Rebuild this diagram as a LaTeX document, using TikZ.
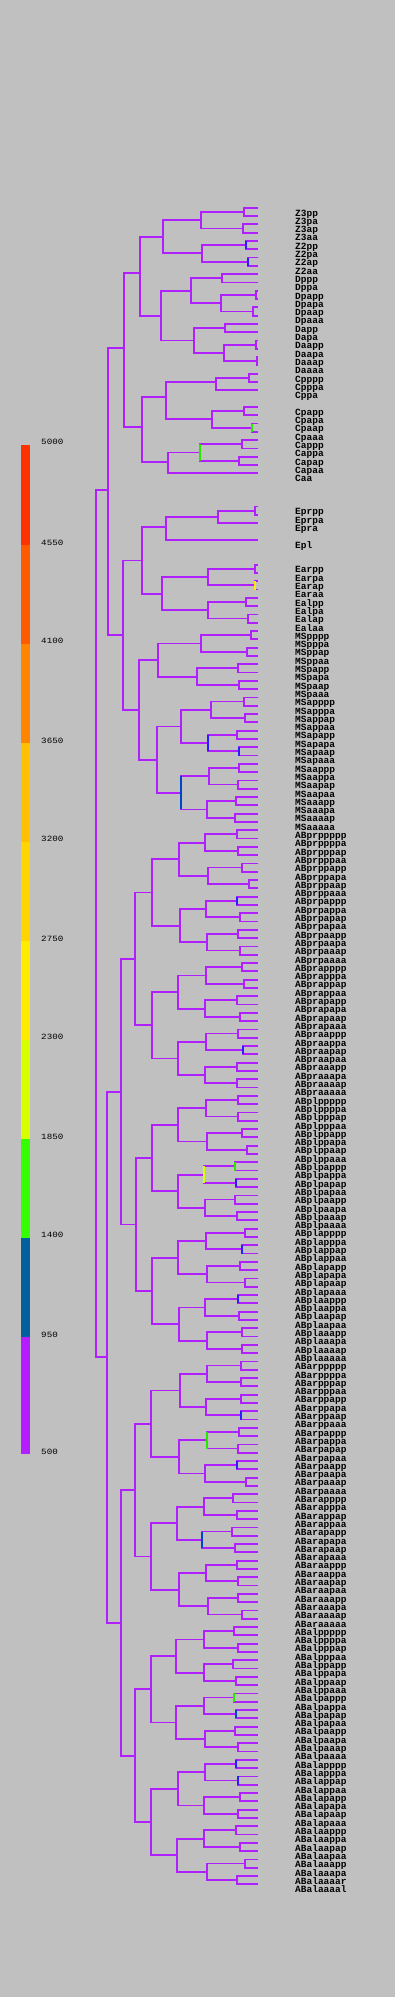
\documentclass[tikz,border=0pt]{standalone}
\usepackage{fontspec}
\newfontfamily\cellmono{Liberation Mono}
\definecolor{bggray}{RGB}{192,192,192}
\definecolor{branchpurple}{RGB}{176,32,255}
\definecolor{markblue}{RGB}{40,30,255}
\definecolor{markteal}{RGB}{0,70,200}
\definecolor{markgreen}{RGB}{40,230,0}
\definecolor{marklime}{RGB}{215,255,0}
\definecolor{markyellow}{RGB}{255,234,0}
\definecolor{scA}{RGB}{255,51,0}
\definecolor{scB}{RGB}{255,90,0}
\definecolor{scC}{RGB}{255,132,0}
\definecolor{scD}{RGB}{255,192,0}
\definecolor{scE}{RGB}{255,212,0}
\definecolor{scF}{RGB}{255,234,0}
\definecolor{scG}{RGB}{216,255,0}
\definecolor{scH}{RGB}{51,255,0}
\definecolor{scI}{RGB}{0,96,158}
\definecolor{scJ}{RGB}{180,30,255}
\tikzset{
  cell/.style={font=\cellmono\bfseries\fontsize{9.5pt}{10pt}\selectfont, anchor=base west, inner sep=0pt},
  scalelabel/.style={font=\cellmono\fontsize{8pt}{8pt}\selectfont, anchor=base west, inner sep=0pt, xscale=1.15},
  lineage/.style={draw=branchpurple, line width=1.8pt},
  timed/.style={line width=1.8pt}
}
\begin{document}
\begin{tikzpicture}[x=1pt, y=-1pt]
  \fill[bggray] (0,0) rectangle (395,1997);
  \useasboundingbox (0,0) rectangle (395,1997);
  % colour scale
  \fill[scA] (21,444.5) rectangle (30,545.1);
  \fill[scB] (21,545.1) rectangle (30,643.8);
  \fill[scC] (21,643.8) rectangle (30,743.1);
  \fill[scD] (21,743.1) rectangle (30,841.8);
  \fill[scE] (21,841.8) rectangle (30,941.1);
  \fill[scF] (21,941.1) rectangle (30,1039.8);
  \fill[scG] (21,1039.8) rectangle (30,1139.1);
  \fill[scH] (21,1139.1) rectangle (30,1237.8);
  \fill[scI] (21,1237.8) rectangle (30,1337.1);
  \fill[scJ] (21,1337.1) rectangle (30,1454);
  \node[scalelabel] (s5000) at (41,444.5) {5000};
  \node[scalelabel] (s4550) at (41,545.1) {4550};
  \node[scalelabel] (s4100) at (41,643.8) {4100};
  \node[scalelabel] (s3650) at (41,743.1) {3650};
  \node[scalelabel] (s3200) at (41,841.8) {3200};
  \node[scalelabel] (s2750) at (41,941.1) {2750};
  \node[scalelabel] (s2300) at (41,1039.8) {2300};
  \node[scalelabel] (s1850) at (41,1139.1) {1850};
  \node[scalelabel] (s1400) at (41,1237.8) {1400};
  \node[scalelabel] (s950) at (41,1337.1) {950};
  \node[scalelabel] (s500) at (41,1454) {500};

  \begin{scope}[y=-8.3pt, yshift=-207.7pt]
    % terminal cells: branch end and name
    \path
      (258,0) coordinate (Z3pp) (295,1) node[cell] (tZ3pp) {Z3pp}
      (258,1) coordinate (Z3pa) (295,2) node[cell] (tZ3pa) {Z3pa}
      (258,2) coordinate (Z3ap) (295,3) node[cell] (tZ3ap) {Z3ap}
      (258,3) coordinate (Z3aa) (295,4) node[cell] (tZ3aa) {Z3aa}
      (258,4) coordinate (Z2pp) (295,5) node[cell] (tZ2pp) {Z2pp}
      (258,5) coordinate (Z2pa) (295,6) node[cell] (tZ2pa) {Z2pa}
      (258,6) coordinate (Z2ap) (295,7) node[cell] (tZ2ap) {Z2ap}
      (258,7) coordinate (Z2aa) (295,8) node[cell] (tZ2aa) {Z2aa}
      (258,8) coordinate (Dppp) (295,9) node[cell] (tDppp) {Dppp}
      (258,9) coordinate (Dppa) (295,10) node[cell] (tDppa) {Dppa}
      (258,10) coordinate (Dpapp) (295,11) node[cell] (tDpapp) {Dpapp}
      (258,11) coordinate (Dpapa) (295,12) node[cell] (tDpapa) {Dpapa}
      (258,12) coordinate (Dpaap) (295,13) node[cell] (tDpaap) {Dpaap}
      (258,13) coordinate (Dpaaa) (295,14) node[cell] (tDpaaa) {Dpaaa}
      (258,14) coordinate (Dapp) (295,15) node[cell] (tDapp) {Dapp}
      (258,15) coordinate (Dapa) (295,16) node[cell] (tDapa) {Dapa}
      (258,16) coordinate (Daapp) (295,17) node[cell] (tDaapp) {Daapp}
      (258,17) coordinate (Daapa) (295,18) node[cell] (tDaapa) {Daapa}
      (258,18) coordinate (Daaap) (295,19) node[cell] (tDaaap) {Daaap}
      (258,19) coordinate (Daaaa) (295,20) node[cell] (tDaaaa) {Daaaa}
      (258,20) coordinate (Cpppp) (295,21) node[cell] (tCpppp) {Cpppp}
      (258,21) coordinate (Cpppa) (295,22) node[cell] (tCpppa) {Cpppa}
      (258,22) coordinate (Cppa) (295,23) node[cell] (tCppa) {Cppa}
      (258,24) coordinate (Cpapp) (295,25) node[cell] (tCpapp) {Cpapp}
      (258,25) coordinate (Cpapa) (295,26) node[cell] (tCpapa) {Cpapa}
      (258,26) coordinate (Cpaap) (295,27) node[cell] (tCpaap) {Cpaap}
      (258,27) coordinate (Cpaaa) (295,28) node[cell] (tCpaaa) {Cpaaa}
      (258,28) coordinate (Cappp) (295,29) node[cell] (tCappp) {Cappp}
      (258,29) coordinate (Cappa) (295,30) node[cell] (tCappa) {Cappa}
      (258,30) coordinate (Capap) (295,31) node[cell] (tCapap) {Capap}
      (258,31) coordinate (Capaa) (295,32) node[cell] (tCapaa) {Capaa}
      (258,32) coordinate (Caa) (295,33) node[cell] (tCaa) {Caa}
      (258,36) coordinate (Eprpp) (295,37) node[cell] (tEprpp) {Eprpp}
      (258,37) coordinate (Eprpa) (295,38) node[cell] (tEprpa) {Eprpa}
      (258,38) coordinate (Epra) (295,39) node[cell] (tEpra) {Epra}
      (258,40) coordinate (Epl) (295,41) node[cell] (tEpl) {Epl}
      (258,43) coordinate (Earpp) (295,44) node[cell] (tEarpp) {Earpp}
      (258,44) coordinate (Earpa) (295,45) node[cell] (tEarpa) {Earpa}
      (258,45) coordinate (Earap) (295,46) node[cell] (tEarap) {Earap}
      (258,46) coordinate (Earaa) (295,47) node[cell] (tEaraa) {Earaa}
      (258,47) coordinate (Ealpp) (295,48) node[cell] (tEalpp) {Ealpp}
      (258,48) coordinate (Ealpa) (295,49) node[cell] (tEalpa) {Ealpa}
      (258,49) coordinate (Ealap) (295,50) node[cell] (tEalap) {Ealap}
      (258,50) coordinate (Ealaa) (295,51) node[cell] (tEalaa) {Ealaa}
      (258,51) coordinate (MSpppp) (295,52) node[cell] (tMSpppp) {MSpppp}
      (258,52) coordinate (MSpppa) (295,53) node[cell] (tMSpppa) {MSpppa}
      (258,53) coordinate (MSppap) (295,54) node[cell] (tMSppap) {MSppap}
      (258,54) coordinate (MSppaa) (295,55) node[cell] (tMSppaa) {MSppaa}
      (258,55) coordinate (MSpapp) (295,56) node[cell] (tMSpapp) {MSpapp}
      (258,56) coordinate (MSpapa) (295,57) node[cell] (tMSpapa) {MSpapa}
      (258,57) coordinate (MSpaap) (295,58) node[cell] (tMSpaap) {MSpaap}
      (258,58) coordinate (MSpaaa) (295,59) node[cell] (tMSpaaa) {MSpaaa}
      (258,59) coordinate (MSapppp) (295,60) node[cell] (tMSapppp) {MSapppp}
      (258,60) coordinate (MSapppa) (295,61) node[cell] (tMSapppa) {MSapppa}
      (258,61) coordinate (MSappap) (295,62) node[cell] (tMSappap) {MSappap}
      (258,62) coordinate (MSappaa) (295,63) node[cell] (tMSappaa) {MSappaa}
      (258,63) coordinate (MSapapp) (295,64) node[cell] (tMSapapp) {MSapapp}
      (258,64) coordinate (MSapapa) (295,65) node[cell] (tMSapapa) {MSapapa}
      (258,65) coordinate (MSapaap) (295,66) node[cell] (tMSapaap) {MSapaap}
      (258,66) coordinate (MSapaaa) (295,67) node[cell] (tMSapaaa) {MSapaaa}
      (258,67) coordinate (MSaappp) (295,68) node[cell] (tMSaappp) {MSaappp}
      (258,68) coordinate (MSaappa) (295,69) node[cell] (tMSaappa) {MSaappa}
      (258,69) coordinate (MSaapap) (295,70) node[cell] (tMSaapap) {MSaapap}
      (258,70) coordinate (MSaapaa) (295,71) node[cell] (tMSaapaa) {MSaapaa}
      (258,71) coordinate (MSaaapp) (295,72) node[cell] (tMSaaapp) {MSaaapp}
      (258,72) coordinate (MSaaapa) (295,73) node[cell] (tMSaaapa) {MSaaapa}
      (258,73) coordinate (MSaaaap) (295,74) node[cell] (tMSaaaap) {MSaaaap}
      (258,74) coordinate (MSaaaaa) (295,75) node[cell] (tMSaaaaa) {MSaaaaa}
      (258,75) coordinate (ABprppppp) (295,76) node[cell] (tABprppppp) {ABprppppp}
      (258,76) coordinate (ABprppppa) (295,77) node[cell] (tABprppppa) {ABprppppa}
      (258,77) coordinate (ABprpppap) (295,78) node[cell] (tABprpppap) {ABprpppap}
      (258,78) coordinate (ABprpppaa) (295,79) node[cell] (tABprpppaa) {ABprpppaa}
      (258,79) coordinate (ABprppapp) (295,80) node[cell] (tABprppapp) {ABprppapp}
      (258,80) coordinate (ABprppapa) (295,81) node[cell] (tABprppapa) {ABprppapa}
      (258,81) coordinate (ABprppaap) (295,82) node[cell] (tABprppaap) {ABprppaap}
      (258,82) coordinate (ABprppaaa) (295,83) node[cell] (tABprppaaa) {ABprppaaa}
      (258,83) coordinate (ABprpappp) (295,84) node[cell] (tABprpappp) {ABprpappp}
      (258,84) coordinate (ABprpappa) (295,85) node[cell] (tABprpappa) {ABprpappa}
      (258,85) coordinate (ABprpapap) (295,86) node[cell] (tABprpapap) {ABprpapap}
      (258,86) coordinate (ABprpapaa) (295,87) node[cell] (tABprpapaa) {ABprpapaa}
      (258,87) coordinate (ABprpaapp) (295,88) node[cell] (tABprpaapp) {ABprpaapp}
      (258,88) coordinate (ABprpaapa) (295,89) node[cell] (tABprpaapa) {ABprpaapa}
      (258,89) coordinate (ABprpaaap) (295,90) node[cell] (tABprpaaap) {ABprpaaap}
      (258,90) coordinate (ABprpaaaa) (295,91) node[cell] (tABprpaaaa) {ABprpaaaa}
      (258,91) coordinate (ABprapppp) (295,92) node[cell] (tABprapppp) {ABprapppp}
      (258,92) coordinate (ABprapppa) (295,93) node[cell] (tABprapppa) {ABprapppa}
      (258,93) coordinate (ABprappap) (295,94) node[cell] (tABprappap) {ABprappap}
      (258,94) coordinate (ABprappaa) (295,95) node[cell] (tABprappaa) {ABprappaa}
      (258,95) coordinate (ABprapapp) (295,96) node[cell] (tABprapapp) {ABprapapp}
      (258,96) coordinate (ABprapapa) (295,97) node[cell] (tABprapapa) {ABprapapa}
      (258,97) coordinate (ABprapaap) (295,98) node[cell] (tABprapaap) {ABprapaap}
      (258,98) coordinate (ABprapaaa) (295,99) node[cell] (tABprapaaa) {ABprapaaa}
      (258,99) coordinate (ABpraappp) (295,100) node[cell] (tABpraappp) {ABpraappp}
      (258,100) coordinate (ABpraappa) (295,101) node[cell] (tABpraappa) {ABpraappa}
      (258,101) coordinate (ABpraapap) (295,102) node[cell] (tABpraapap) {ABpraapap}
      (258,102) coordinate (ABpraapaa) (295,103) node[cell] (tABpraapaa) {ABpraapaa}
      (258,103) coordinate (ABpraaapp) (295,104) node[cell] (tABpraaapp) {ABpraaapp}
      (258,104) coordinate (ABpraaapa) (295,105) node[cell] (tABpraaapa) {ABpraaapa}
      (258,105) coordinate (ABpraaaap) (295,106) node[cell] (tABpraaaap) {ABpraaaap}
      (258,106) coordinate (ABpraaaaa) (295,107) node[cell] (tABpraaaaa) {ABpraaaaa}
      (258,107) coordinate (ABplppppp) (295,108) node[cell] (tABplppppp) {ABplppppp}
      (258,108) coordinate (ABplppppa) (295,109) node[cell] (tABplppppa) {ABplppppa}
      (258,109) coordinate (ABplpppap) (295,110) node[cell] (tABplpppap) {ABplpppap}
      (258,110) coordinate (ABplpppaa) (295,111) node[cell] (tABplpppaa) {ABplpppaa}
      (258,111) coordinate (ABplppapp) (295,112) node[cell] (tABplppapp) {ABplppapp}
      (258,112) coordinate (ABplppapa) (295,113) node[cell] (tABplppapa) {ABplppapa}
      (258,113) coordinate (ABplppaap) (295,114) node[cell] (tABplppaap) {ABplppaap}
      (258,114) coordinate (ABplppaaa) (295,115) node[cell] (tABplppaaa) {ABplppaaa}
      (258,115) coordinate (ABplpappp) (295,116) node[cell] (tABplpappp) {ABplpappp}
      (258,116) coordinate (ABplpappa) (295,117) node[cell] (tABplpappa) {ABplpappa}
      (258,117) coordinate (ABplpapap) (295,118) node[cell] (tABplpapap) {ABplpapap}
      (258,118) coordinate (ABplpapaa) (295,119) node[cell] (tABplpapaa) {ABplpapaa}
      (258,119) coordinate (ABplpaapp) (295,120) node[cell] (tABplpaapp) {ABplpaapp}
      (258,120) coordinate (ABplpaapa) (295,121) node[cell] (tABplpaapa) {ABplpaapa}
      (258,121) coordinate (ABplpaaap) (295,122) node[cell] (tABplpaaap) {ABplpaaap}
      (258,122) coordinate (ABplpaaaa) (295,123) node[cell] (tABplpaaaa) {ABplpaaaa}
      (258,123) coordinate (ABplapppp) (295,124) node[cell] (tABplapppp) {ABplapppp}
      (258,124) coordinate (ABplapppa) (295,125) node[cell] (tABplapppa) {ABplapppa}
      (258,125) coordinate (ABplappap) (295,126) node[cell] (tABplappap) {ABplappap}
      (258,126) coordinate (ABplappaa) (295,127) node[cell] (tABplappaa) {ABplappaa}
      (258,127) coordinate (ABplapapp) (295,128) node[cell] (tABplapapp) {ABplapapp}
      (258,128) coordinate (ABplapapa) (295,129) node[cell] (tABplapapa) {ABplapapa}
      (258,129) coordinate (ABplapaap) (295,130) node[cell] (tABplapaap) {ABplapaap}
      (258,130) coordinate (ABplapaaa) (295,131) node[cell] (tABplapaaa) {ABplapaaa}
      (258,131) coordinate (ABplaappp) (295,132) node[cell] (tABplaappp) {ABplaappp}
      (258,132) coordinate (ABplaappa) (295,133) node[cell] (tABplaappa) {ABplaappa}
      (258,133) coordinate (ABplaapap) (295,134) node[cell] (tABplaapap) {ABplaapap}
      (258,134) coordinate (ABplaapaa) (295,135) node[cell] (tABplaapaa) {ABplaapaa}
      (258,135) coordinate (ABplaaapp) (295,136) node[cell] (tABplaaapp) {ABplaaapp}
      (258,136) coordinate (ABplaaapa) (295,137) node[cell] (tABplaaapa) {ABplaaapa}
      (258,137) coordinate (ABplaaaap) (295,138) node[cell] (tABplaaaap) {ABplaaaap}
      (258,138) coordinate (ABplaaaaa) (295,139) node[cell] (tABplaaaaa) {ABplaaaaa}
      (258,139) coordinate (ABarppppp) (295,140) node[cell] (tABarppppp) {ABarppppp}
      (258,140) coordinate (ABarppppa) (295,141) node[cell] (tABarppppa) {ABarppppa}
      (258,141) coordinate (ABarpppap) (295,142) node[cell] (tABarpppap) {ABarpppap}
      (258,142) coordinate (ABarpppaa) (295,143) node[cell] (tABarpppaa) {ABarpppaa}
      (258,143) coordinate (ABarppapp) (295,144) node[cell] (tABarppapp) {ABarppapp}
      (258,144) coordinate (ABarppapa) (295,145) node[cell] (tABarppapa) {ABarppapa}
      (258,145) coordinate (ABarppaap) (295,146) node[cell] (tABarppaap) {ABarppaap}
      (258,146) coordinate (ABarppaaa) (295,147) node[cell] (tABarppaaa) {ABarppaaa}
      (258,147) coordinate (ABarpappp) (295,148) node[cell] (tABarpappp) {ABarpappp}
      (258,148) coordinate (ABarpappa) (295,149) node[cell] (tABarpappa) {ABarpappa}
      (258,149) coordinate (ABarpapap) (295,150) node[cell] (tABarpapap) {ABarpapap}
      (258,150) coordinate (ABarpapaa) (295,151) node[cell] (tABarpapaa) {ABarpapaa}
      (258,151) coordinate (ABarpaapp) (295,152) node[cell] (tABarpaapp) {ABarpaapp}
      (258,152) coordinate (ABarpaapa) (295,153) node[cell] (tABarpaapa) {ABarpaapa}
      (258,153) coordinate (ABarpaaap) (295,154) node[cell] (tABarpaaap) {ABarpaaap}
      (258,154) coordinate (ABarpaaaa) (295,155) node[cell] (tABarpaaaa) {ABarpaaaa}
      (258,155) coordinate (ABarapppp) (295,156) node[cell] (tABarapppp) {ABarapppp}
      (258,156) coordinate (ABarapppa) (295,157) node[cell] (tABarapppa) {ABarapppa}
      (258,157) coordinate (ABarappap) (295,158) node[cell] (tABarappap) {ABarappap}
      (258,158) coordinate (ABarappaa) (295,159) node[cell] (tABarappaa) {ABarappaa}
      (258,159) coordinate (ABarapapp) (295,160) node[cell] (tABarapapp) {ABarapapp}
      (258,160) coordinate (ABarapapa) (295,161) node[cell] (tABarapapa) {ABarapapa}
      (258,161) coordinate (ABarapaap) (295,162) node[cell] (tABarapaap) {ABarapaap}
      (258,162) coordinate (ABarapaaa) (295,163) node[cell] (tABarapaaa) {ABarapaaa}
      (258,163) coordinate (ABaraappp) (295,164) node[cell] (tABaraappp) {ABaraappp}
      (258,164) coordinate (ABaraappa) (295,165) node[cell] (tABaraappa) {ABaraappa}
      (258,165) coordinate (ABaraapap) (295,166) node[cell] (tABaraapap) {ABaraapap}
      (258,166) coordinate (ABaraapaa) (295,167) node[cell] (tABaraapaa) {ABaraapaa}
      (258,167) coordinate (ABaraaapp) (295,168) node[cell] (tABaraaapp) {ABaraaapp}
      (258,168) coordinate (ABaraaapa) (295,169) node[cell] (tABaraaapa) {ABaraaapa}
      (258,169) coordinate (ABaraaaap) (295,170) node[cell] (tABaraaaap) {ABaraaaap}
      (258,170) coordinate (ABaraaaaa) (295,171) node[cell] (tABaraaaaa) {ABaraaaaa}
      (258,171) coordinate (ABalppppp) (295,172) node[cell] (tABalppppp) {ABalppppp}
      (258,172) coordinate (ABalppppa) (295,173) node[cell] (tABalppppa) {ABalppppa}
      (258,173) coordinate (ABalpppap) (295,174) node[cell] (tABalpppap) {ABalpppap}
      (258,174) coordinate (ABalpppaa) (295,175) node[cell] (tABalpppaa) {ABalpppaa}
      (258,175) coordinate (ABalppapp) (295,176) node[cell] (tABalppapp) {ABalppapp}
      (258,176) coordinate (ABalppapa) (295,177) node[cell] (tABalppapa) {ABalppapa}
      (258,177) coordinate (ABalppaap) (295,178) node[cell] (tABalppaap) {ABalppaap}
      (258,178) coordinate (ABalppaaa) (295,179) node[cell] (tABalppaaa) {ABalppaaa}
      (258,179) coordinate (ABalpappp) (295,180) node[cell] (tABalpappp) {ABalpappp}
      (258,180) coordinate (ABalpappa) (295,181) node[cell] (tABalpappa) {ABalpappa}
      (258,181) coordinate (ABalpapap) (295,182) node[cell] (tABalpapap) {ABalpapap}
      (258,182) coordinate (ABalpapaa) (295,183) node[cell] (tABalpapaa) {ABalpapaa}
      (258,183) coordinate (ABalpaapp) (295,184) node[cell] (tABalpaapp) {ABalpaapp}
      (258,184) coordinate (ABalpaapa) (295,185) node[cell] (tABalpaapa) {ABalpaapa}
      (258,185) coordinate (ABalpaaap) (295,186) node[cell] (tABalpaaap) {ABalpaaap}
      (258,186) coordinate (ABalpaaaa) (295,187) node[cell] (tABalpaaaa) {ABalpaaaa}
      (258,187) coordinate (ABalapppp) (295,188) node[cell] (tABalapppp) {ABalapppp}
      (258,188) coordinate (ABalapppa) (295,189) node[cell] (tABalapppa) {ABalapppa}
      (258,189) coordinate (ABalappap) (295,190) node[cell] (tABalappap) {ABalappap}
      (258,190) coordinate (ABalappaa) (295,191) node[cell] (tABalappaa) {ABalappaa}
      (258,191) coordinate (ABalapapp) (295,192) node[cell] (tABalapapp) {ABalapapp}
      (258,192) coordinate (ABalapapa) (295,193) node[cell] (tABalapapa) {ABalapapa}
      (258,193) coordinate (ABalapaap) (295,194) node[cell] (tABalapaap) {ABalapaap}
      (258,194) coordinate (ABalapaaa) (295,195) node[cell] (tABalapaaa) {ABalapaaa}
      (258,195) coordinate (ABalaappp) (295,196) node[cell] (tABalaappp) {ABalaappp}
      (258,196) coordinate (ABalaappa) (295,197) node[cell] (tABalaappa) {ABalaappa}
      (258,197) coordinate (ABalaapap) (295,198) node[cell] (tABalaapap) {ABalaapap}
      (258,198) coordinate (ABalaapaa) (295,199) node[cell] (tABalaapaa) {ABalaapaa}
      (258,199) coordinate (ABalaaapp) (295,200) node[cell] (tABalaaapp) {ABalaaapp}
      (258,200) coordinate (ABalaaapa) (295,201) node[cell] (tABalaaapa) {ABalaaapa}
      (258,201) coordinate (ABalaaaar) (295,202) node[cell] (tABalaaaar) {ABalaaaar}
      (258,202) coordinate (ABalaaaal) (295,203) node[cell] (tABalaaaal) {ABalaaaal};

    % dividing cells (x = time of division)
    \path
      (244,0.5) coordinate (Z3p)
      (242.7,2.5) coordinate (Z3a)
      (200.7,1.5) coordinate (Z3)
      (246,4.5) coordinate (Z2p)
      (248,6.5) coordinate (Z2a)
      (202,5.5) coordinate (Z2)
      (162.7,3.5) coordinate (P4)
      (222,8.5) coordinate (Dpp)
      (256,10.5) coordinate (Dpap)
      (252.7,12.5) coordinate (Dpaa)
      (220.7,11.5) coordinate (Dpa)
      (190.7,10) coordinate (Dp)
      (224.7,14.5) coordinate (Dap)
      (256,16.5) coordinate (Daap)
      (256.7,18.5) coordinate (Daaa)
      (223.7,17.5) coordinate (Daa)
      (194,16) coordinate (Da)
      (160.7,13) coordinate (D)
      (140,7.9) coordinate (P3)
      (248.7,20.5) coordinate (Cppp)
      (215.7,21) coordinate (Cpp)
      (244,24.5) coordinate (Cpap)
      (252.3,26.5) coordinate (Cpaa)
      (212,25.5) coordinate (Cpa)
      (166,22.85) coordinate (Cp)
      (242,28.5) coordinate (Capp)
      (239,30.5) coordinate (Capa)
      (200,29.5) coordinate (Cap)
      (167.7,30.6) coordinate (Ca)
      (142.3,26.4) coordinate (C)
      (123.7,16.94) coordinate (P2)
      (255.3,36.5) coordinate (Eprp)
      (217.7,37.25) coordinate (Epr)
      (166,38.5) coordinate (Ep)
      (255.3,43.5) coordinate (Earp)
      (255.3,45.5) coordinate (Eara)
      (207.7,44.5) coordinate (Ear)
      (245.7,47.5) coordinate (Ealp)
      (247.7,49.5) coordinate (Eala)
      (207.7,48.5) coordinate (Eal)
      (161.7,46.5) coordinate (Ea)
      (141.7,42.5) coordinate (E)
      (250.7,51.5) coordinate (MSppp)
      (246.7,53.5) coordinate (MSppa)
      (200.7,52.5) coordinate (MSpp)
      (237.7,55.5) coordinate (MSpap)
      (238.7,57.5) coordinate (MSpaa)
      (196.7,56.5) coordinate (MSpa)
      (157.7,54.5) coordinate (MSp)
      (243.7,59.5) coordinate (MSappp)
      (244.7,61.5) coordinate (MSappa)
      (210.7,60.5) coordinate (MSapp)
      (236.7,63.5) coordinate (MSapap)
      (238.7,65.5) coordinate (MSapaa)
      (207.7,64.5) coordinate (MSapa)
      (180.7,62.5) coordinate (MSap)
      (238.7,67.5) coordinate (MSaapp)
      (237.7,69.5) coordinate (MSaapa)
      (208.7,68.5) coordinate (MSaap)
      (235.7,71.5) coordinate (MSaaap)
      (234.7,73.5) coordinate (MSaaaa)
      (206.7,72.5) coordinate (MSaaa)
      (180.7,70.5) coordinate (MSaa)
      (157,66.5) coordinate (MSa)
      (139,60.5) coordinate (MS)
      (122.7,51.5) coordinate (EMS)
      (107.7,34) coordinate (P1)
      (236.7,75.5) coordinate (ABprpppp)
      (237.7,77.5) coordinate (ABprpppa)
      (204.7,76.5) coordinate (ABprppp)
      (242,79.5) coordinate (ABprppap)
      (248.7,81.5) coordinate (ABprppaa)
      (207.7,80.5) coordinate (ABprppa)
      (178.7,78.5) coordinate (ABprpp)
      (236.7,83.5) coordinate (ABprpapp)
      (239.7,85.5) coordinate (ABprpapa)
      (205.7,84.5) coordinate (ABprpap)
      (237.7,87.5) coordinate (ABprpaap)
      (239.7,89.5) coordinate (ABprpaaa)
      (206.7,88.5) coordinate (ABprpaa)
      (180,86.5) coordinate (ABprpa)
      (151.7,82.5) coordinate (ABprp)
      (242,91.5) coordinate (ABprappp)
      (243.7,93.5) coordinate (ABprappa)
      (205.7,92.5) coordinate (ABprapp)
      (236.7,95.5) coordinate (ABprapap)
      (239.7,97.5) coordinate (ABprapaa)
      (204.7,96.5) coordinate (ABprapa)
      (177.7,94.5) coordinate (ABprap)
      (237.7,99.5) coordinate (ABpraapp)
      (242.7,101.5) coordinate (ABpraapa)
      (205.7,100.5) coordinate (ABpraap)
      (236.7,103.5) coordinate (ABpraaap)
      (236.7,105.5) coordinate (ABpraaaa)
      (204.7,104.5) coordinate (ABpraaa)
      (177.7,102.5) coordinate (ABpraa)
      (151.7,98.5) coordinate (ABpra)
      (134.7,90.5) coordinate (ABpr)
      (237.7,107.5) coordinate (ABplpppp)
      (237.7,109.5) coordinate (ABplpppa)
      (205.7,108.5) coordinate (ABplppp)
      (241.7,111.5) coordinate (ABplppap)
      (246.7,113.5) coordinate (ABplppaa)
      (206.7,112.5) coordinate (ABplppa)
      (177.7,110.5) coordinate (ABplpp)
      (234.7,115.5) coordinate (ABplpapp)
      (235.7,117.5) coordinate (ABplpapa)
      (204,116.5) coordinate (ABplpap)
      (234.7,119.5) coordinate (ABplpaap)
      (236.7,121.5) coordinate (ABplpaaa)
      (204.7,120.5) coordinate (ABplpaa)
      (177.7,118.5) coordinate (ABplpa)
      (151.7,114.5) coordinate (ABplp)
      (245,123.5) coordinate (ABplappp)
      (241.7,125.5) coordinate (ABplappa)
      (205.7,124.5) coordinate (ABplapp)
      (239.7,127.5) coordinate (ABplapap)
      (244.7,129.5) coordinate (ABplapaa)
      (206.7,128.5) coordinate (ABplapa)
      (177.7,126.5) coordinate (ABplap)
      (237.7,131.5) coordinate (ABplaapp)
      (238.7,133.5) coordinate (ABplaapa)
      (204.7,132.5) coordinate (ABplaap)
      (241.7,135.5) coordinate (ABplaaap)
      (241.7,137.5) coordinate (ABplaaaa)
      (206.7,136.5) coordinate (ABplaaa)
      (178.7,134.5) coordinate (ABplaa)
      (151.7,130.5) coordinate (ABpla)
      (135.7,122.5) coordinate (ABpl)
      (240.7,139.5) coordinate (ABarpppp)
      (240.7,141.5) coordinate (ABarpppa)
      (206.7,140.5) coordinate (ABarppp)
      (240.7,143.5) coordinate (ABarppap)
      (240.7,145.5) coordinate (ABarppaa)
      (205.7,144.5) coordinate (ABarppa)
      (179.7,142.5) coordinate (ABarpp)
      (238.7,147.5) coordinate (ABarpapp)
      (237.7,149.5) coordinate (ABarpapa)
      (206.7,148.5) coordinate (ABarpap)
      (236.7,151.5) coordinate (ABarpaap)
      (245.7,153.5) coordinate (ABarpaaa)
      (204.7,152.5) coordinate (ABarpaa)
      (178.7,150.5) coordinate (ABarpa)
      (150.7,146.5) coordinate (ABarp)
      (232.7,155.5) coordinate (ABarappp)
      (236.7,157.5) coordinate (ABarappa)
      (203.7,156.5) coordinate (ABarapp)
      (231.7,159.5) coordinate (ABarapap)
      (234.7,161.5) coordinate (ABarapaa)
      (201.7,160.5) coordinate (ABarapa)
      (176.7,158.5) coordinate (ABarap)
      (236.7,163.5) coordinate (ABaraapp)
      (237.7,165.5) coordinate (ABaraapa)
      (205.7,164.5) coordinate (ABaraap)
      (237.7,167.5) coordinate (ABaraaap)
      (241.7,169.5) coordinate (ABaraaaa)
      (207.7,168.5) coordinate (ABaraaa)
      (178.7,166.5) coordinate (ABaraa)
      (150.7,162.5) coordinate (ABara)
      (134.7,154.5) coordinate (ABar)
      (233.7,171.5) coordinate (ABalpppp)
      (237.7,173.5) coordinate (ABalpppa)
      (203.7,172.5) coordinate (ABalppp)
      (232.7,175.5) coordinate (ABalppap)
      (235.7,177.5) coordinate (ABalppaa)
      (203.7,176.5) coordinate (ABalppa)
      (175.7,174.5) coordinate (ABalpp)
      (233.7,179.5) coordinate (ABalpapp)
      (235.7,181.5) coordinate (ABalpapa)
      (203.7,180.5) coordinate (ABalpap)
      (234.7,183.5) coordinate (ABalpaap)
      (237.7,185.5) coordinate (ABalpaaa)
      (204.7,184.5) coordinate (ABalpaa)
      (175.7,182.5) coordinate (ABalpa)
      (150.7,178.5) coordinate (ABalp)
      (235.7,187.5) coordinate (ABalappp)
      (237.7,189.5) coordinate (ABalappa)
      (204.7,188.5) coordinate (ABalapp)
      (239.7,191.5) coordinate (ABalapap)
      (237.7,193.5) coordinate (ABalapaa)
      (203.7,192.5) coordinate (ABalapa)
      (177.7,190.5) coordinate (ABalap)
      (235.7,195.5) coordinate (ABalaapp)
      (239.7,197.5) coordinate (ABalaapa)
      (203.7,196.5) coordinate (ABalaap)
      (245,199.5) coordinate (ABalaaap)
      (236.7,201.5) coordinate (ABalaaaa)
      (206.7,200.5) coordinate (ABalaaa)
      (176.7,198.5) coordinate (ABalaa)
      (150.7,194.5) coordinate (ABala)
      (134.7,186.5) coordinate (ABal)
      (121,106.5) coordinate (ABp)
      (121,170.5) coordinate (ABa)
      (106.7,138.5) coordinate (AB)
      (95.7,86.25) coordinate (P0);

    \begin{scope}[lineage]
      \draw (Z3pp) -| (Z3p) |- (Z3pa);
      \draw (Z3ap) -| (Z3a) |- (Z3aa);
      \draw (Z3p) -| (Z3) |- (Z3a);
      \draw (Z2pp) -| (Z2p) |- (Z2pa);
      \draw (Z2ap) -| (Z2a) |- (Z2aa);
      \draw (Z2p) -| (Z2) |- (Z2a);
      \draw (Z3) -| (P4) |- (Z2);
      \draw (Dppp) -| (Dpp) |- (Dppa);
      \draw (Dpapp) -| (Dpap) |- (Dpapa);
      \draw (Dpaap) -| (Dpaa) |- (Dpaaa);
      \draw (Dpap) -| (Dpa) |- (Dpaa);
      \draw (Dpp) -| (Dp) |- (Dpa);
      \draw (Dapp) -| (Dap) |- (Dapa);
      \draw (Daapp) -| (Daap) |- (Daapa);
      \draw (Daaap) -| (Daaa) |- (Daaaa);
      \draw (Daap) -| (Daa) |- (Daaa);
      \draw (Dap) -| (Da) |- (Daa);
      \draw (Dp) -| (D) |- (Da);
      \draw (P4) -| (P3) |- (D);
      \draw (Cpppp) -| (Cppp) |- (Cpppa);
      \draw (Cppp) -| (Cpp) |- (Cppa);
      \draw (Cpapp) -| (Cpap) |- (Cpapa);
      \draw (Cpaap) -| (Cpaa) |- (Cpaaa);
      \draw (Cpap) -| (Cpa) |- (Cpaa);
      \draw (Cpp) -| (Cp) |- (Cpa);
      \draw (Cappp) -| (Capp) |- (Cappa);
      \draw (Capap) -| (Capa) |- (Capaa);
      \draw (Capp) -| (Cap) |- (Capa);
      \draw (Cap) -| (Ca) |- (Caa);
      \draw (Cp) -| (C) |- (Ca);
      \draw (P3) -| (P2) |- (C);
      \draw (Eprpp) -| (Eprp) |- (Eprpa);
      \draw (Eprp) -| (Epr) |- (Epra);
      \draw (Epr) -| (Ep) |- (Epl);
      \draw (Earpp) -| (Earp) |- (Earpa);
      \draw (Earap) -| (Eara) |- (Earaa);
      \draw (Earp) -| (Ear) |- (Eara);
      \draw (Ealpp) -| (Ealp) |- (Ealpa);
      \draw (Ealap) -| (Eala) |- (Ealaa);
      \draw (Ealp) -| (Eal) |- (Eala);
      \draw (Ear) -| (Ea) |- (Eal);
      \draw (Ep) -| (E) |- (Ea);
      \draw (MSpppp) -| (MSppp) |- (MSpppa);
      \draw (MSppap) -| (MSppa) |- (MSppaa);
      \draw (MSppp) -| (MSpp) |- (MSppa);
      \draw (MSpapp) -| (MSpap) |- (MSpapa);
      \draw (MSpaap) -| (MSpaa) |- (MSpaaa);
      \draw (MSpap) -| (MSpa) |- (MSpaa);
      \draw (MSpp) -| (MSp) |- (MSpa);
      \draw (MSapppp) -| (MSappp) |- (MSapppa);
      \draw (MSappap) -| (MSappa) |- (MSappaa);
      \draw (MSappp) -| (MSapp) |- (MSappa);
      \draw (MSapapp) -| (MSapap) |- (MSapapa);
      \draw (MSapaap) -| (MSapaa) |- (MSapaaa);
      \draw (MSapap) -| (MSapa) |- (MSapaa);
      \draw (MSapp) -| (MSap) |- (MSapa);
      \draw (MSaappp) -| (MSaapp) |- (MSaappa);
      \draw (MSaapap) -| (MSaapa) |- (MSaapaa);
      \draw (MSaapp) -| (MSaap) |- (MSaapa);
      \draw (MSaaapp) -| (MSaaap) |- (MSaaapa);
      \draw (MSaaaap) -| (MSaaaa) |- (MSaaaaa);
      \draw (MSaaap) -| (MSaaa) |- (MSaaaa);
      \draw (MSaap) -| (MSaa) |- (MSaaa);
      \draw (MSap) -| (MSa) |- (MSaa);
      \draw (MSp) -| (MS) |- (MSa);
      \draw (E) -| (EMS) |- (MS);
      \draw (P2) -| (P1) |- (EMS);
      % ABpr
      \draw (ABprppppp) -| (ABprpppp) |- (ABprppppa);
      \draw (ABprpppap) -| (ABprpppa) |- (ABprpppaa);
      \draw (ABprppapp) -| (ABprppap) |- (ABprppapa);
      \draw (ABprppaap) -| (ABprppaa) |- (ABprppaaa);
      \draw (ABprpappp) -| (ABprpapp) |- (ABprpappa);
      \draw (ABprpapap) -| (ABprpapa) |- (ABprpapaa);
      \draw (ABprpaapp) -| (ABprpaap) |- (ABprpaapa);
      \draw (ABprpaaap) -| (ABprpaaa) |- (ABprpaaaa);
      \draw (ABprapppp) -| (ABprappp) |- (ABprapppa);
      \draw (ABprappap) -| (ABprappa) |- (ABprappaa);
      \draw (ABprapapp) -| (ABprapap) |- (ABprapapa);
      \draw (ABprapaap) -| (ABprapaa) |- (ABprapaaa);
      \draw (ABpraappp) -| (ABpraapp) |- (ABpraappa);
      \draw (ABpraapap) -| (ABpraapa) |- (ABpraapaa);
      \draw (ABpraaapp) -| (ABpraaap) |- (ABpraaapa);
      \draw (ABpraaaap) -| (ABpraaaa) |- (ABpraaaaa);
      \draw (ABprpppp) -| (ABprppp) |- (ABprpppa);
      \draw (ABprppap) -| (ABprppa) |- (ABprppaa);
      \draw (ABprpapp) -| (ABprpap) |- (ABprpapa);
      \draw (ABprpaap) -| (ABprpaa) |- (ABprpaaa);
      \draw (ABprappp) -| (ABprapp) |- (ABprappa);
      \draw (ABprapap) -| (ABprapa) |- (ABprapaa);
      \draw (ABpraapp) -| (ABpraap) |- (ABpraapa);
      \draw (ABpraaap) -| (ABpraaa) |- (ABpraaaa);
      \draw (ABprppp) -| (ABprpp) |- (ABprppa);
      \draw (ABprpap) -| (ABprpa) |- (ABprpaa);
      \draw (ABprapp) -| (ABprap) |- (ABprapa);
      \draw (ABpraap) -| (ABpraa) |- (ABpraaa);
      \draw (ABprpp) -| (ABprp) |- (ABprpa);
      \draw (ABprap) -| (ABpra) |- (ABpraa);
      \draw (ABprp) -| (ABpr) |- (ABpra);
      % ABpl
      \draw (ABplppppp) -| (ABplpppp) |- (ABplppppa);
      \draw (ABplpppap) -| (ABplpppa) |- (ABplpppaa);
      \draw (ABplppapp) -| (ABplppap) |- (ABplppapa);
      \draw (ABplppaap) -| (ABplppaa) |- (ABplppaaa);
      \draw (ABplpappp) -| (ABplpapp) |- (ABplpappa);
      \draw (ABplpapap) -| (ABplpapa) |- (ABplpapaa);
      \draw (ABplpaapp) -| (ABplpaap) |- (ABplpaapa);
      \draw (ABplpaaap) -| (ABplpaaa) |- (ABplpaaaa);
      \draw (ABplapppp) -| (ABplappp) |- (ABplapppa);
      \draw (ABplappap) -| (ABplappa) |- (ABplappaa);
      \draw (ABplapapp) -| (ABplapap) |- (ABplapapa);
      \draw (ABplapaap) -| (ABplapaa) |- (ABplapaaa);
      \draw (ABplaappp) -| (ABplaapp) |- (ABplaappa);
      \draw (ABplaapap) -| (ABplaapa) |- (ABplaapaa);
      \draw (ABplaaapp) -| (ABplaaap) |- (ABplaaapa);
      \draw (ABplaaaap) -| (ABplaaaa) |- (ABplaaaaa);
      \draw (ABplpppp) -| (ABplppp) |- (ABplpppa);
      \draw (ABplppap) -| (ABplppa) |- (ABplppaa);
      \draw (ABplpapp) -| (ABplpap) |- (ABplpapa);
      \draw (ABplpaap) -| (ABplpaa) |- (ABplpaaa);
      \draw (ABplappp) -| (ABplapp) |- (ABplappa);
      \draw (ABplapap) -| (ABplapa) |- (ABplapaa);
      \draw (ABplaapp) -| (ABplaap) |- (ABplaapa);
      \draw (ABplaaap) -| (ABplaaa) |- (ABplaaaa);
      \draw (ABplppp) -| (ABplpp) |- (ABplppa);
      \draw (ABplpap) -| (ABplpa) |- (ABplpaa);
      \draw (ABplapp) -| (ABplap) |- (ABplapa);
      \draw (ABplaap) -| (ABplaa) |- (ABplaaa);
      \draw (ABplpp) -| (ABplp) |- (ABplpa);
      \draw (ABplap) -| (ABpla) |- (ABplaa);
      \draw (ABplp) -| (ABpl) |- (ABpla);
      % ABar
      \draw (ABarppppp) -| (ABarpppp) |- (ABarppppa);
      \draw (ABarpppap) -| (ABarpppa) |- (ABarpppaa);
      \draw (ABarppapp) -| (ABarppap) |- (ABarppapa);
      \draw (ABarppaap) -| (ABarppaa) |- (ABarppaaa);
      \draw (ABarpappp) -| (ABarpapp) |- (ABarpappa);
      \draw (ABarpapap) -| (ABarpapa) |- (ABarpapaa);
      \draw (ABarpaapp) -| (ABarpaap) |- (ABarpaapa);
      \draw (ABarpaaap) -| (ABarpaaa) |- (ABarpaaaa);
      \draw (ABarapppp) -| (ABarappp) |- (ABarapppa);
      \draw (ABarappap) -| (ABarappa) |- (ABarappaa);
      \draw (ABarapapp) -| (ABarapap) |- (ABarapapa);
      \draw (ABarapaap) -| (ABarapaa) |- (ABarapaaa);
      \draw (ABaraappp) -| (ABaraapp) |- (ABaraappa);
      \draw (ABaraapap) -| (ABaraapa) |- (ABaraapaa);
      \draw (ABaraaapp) -| (ABaraaap) |- (ABaraaapa);
      \draw (ABaraaaap) -| (ABaraaaa) |- (ABaraaaaa);
      \draw (ABarpppp) -| (ABarppp) |- (ABarpppa);
      \draw (ABarppap) -| (ABarppa) |- (ABarppaa);
      \draw (ABarpapp) -| (ABarpap) |- (ABarpapa);
      \draw (ABarpaap) -| (ABarpaa) |- (ABarpaaa);
      \draw (ABarappp) -| (ABarapp) |- (ABarappa);
      \draw (ABarapap) -| (ABarapa) |- (ABarapaa);
      \draw (ABaraapp) -| (ABaraap) |- (ABaraapa);
      \draw (ABaraaap) -| (ABaraaa) |- (ABaraaaa);
      \draw (ABarppp) -| (ABarpp) |- (ABarppa);
      \draw (ABarpap) -| (ABarpa) |- (ABarpaa);
      \draw (ABarapp) -| (ABarap) |- (ABarapa);
      \draw (ABaraap) -| (ABaraa) |- (ABaraaa);
      \draw (ABarpp) -| (ABarp) |- (ABarpa);
      \draw (ABarap) -| (ABara) |- (ABaraa);
      \draw (ABarp) -| (ABar) |- (ABara);
      % ABal
      \draw (ABalppppp) -| (ABalpppp) |- (ABalppppa);
      \draw (ABalpppap) -| (ABalpppa) |- (ABalpppaa);
      \draw (ABalppapp) -| (ABalppap) |- (ABalppapa);
      \draw (ABalppaap) -| (ABalppaa) |- (ABalppaaa);
      \draw (ABalpappp) -| (ABalpapp) |- (ABalpappa);
      \draw (ABalpapap) -| (ABalpapa) |- (ABalpapaa);
      \draw (ABalpaapp) -| (ABalpaap) |- (ABalpaapa);
      \draw (ABalpaaap) -| (ABalpaaa) |- (ABalpaaaa);
      \draw (ABalapppp) -| (ABalappp) |- (ABalapppa);
      \draw (ABalappap) -| (ABalappa) |- (ABalappaa);
      \draw (ABalapapp) -| (ABalapap) |- (ABalapapa);
      \draw (ABalapaap) -| (ABalapaa) |- (ABalapaaa);
      \draw (ABalaappp) -| (ABalaapp) |- (ABalaappa);
      \draw (ABalaapap) -| (ABalaapa) |- (ABalaapaa);
      \draw (ABalaaapp) -| (ABalaaap) |- (ABalaaapa);
      \draw (ABalaaaar) -| (ABalaaaa) |- (ABalaaaal);
      \draw (ABalpppp) -| (ABalppp) |- (ABalpppa);
      \draw (ABalppap) -| (ABalppa) |- (ABalppaa);
      \draw (ABalpapp) -| (ABalpap) |- (ABalpapa);
      \draw (ABalpaap) -| (ABalpaa) |- (ABalpaaa);
      \draw (ABalappp) -| (ABalapp) |- (ABalappa);
      \draw (ABalapap) -| (ABalapa) |- (ABalapaa);
      \draw (ABalaapp) -| (ABalaap) |- (ABalaapa);
      \draw (ABalaaap) -| (ABalaaa) |- (ABalaaaa);
      \draw (ABalppp) -| (ABalpp) |- (ABalppa);
      \draw (ABalpap) -| (ABalpa) |- (ABalpaa);
      \draw (ABalapp) -| (ABalap) |- (ABalapa);
      \draw (ABalaap) -| (ABalaa) |- (ABalaaa);
      \draw (ABalpp) -| (ABalp) |- (ABalpa);
      \draw (ABalap) -| (ABala) |- (ABalaa);
      \draw (ABalp) -| (ABal) |- (ABala);
      \draw (ABpr) -| (ABp) |- (ABpl);
      \draw (ABar) -| (ABa) |- (ABal);
      \draw (ABp) -| (AB) |- (ABa);
      \draw (P1) -| (P0) |- (AB);
    \end{scope}

    % coloured division times
    \draw[timed, markblue] (Z2p |- Z2pp) -- (Z2p |- Z2pa);
    \draw[timed, markblue] (Z2a |- Z2ap) -- (Z2a |- Z2aa);
    \draw[timed, markgreen] (Cpaa |- Cpaap) -- (Cpaa |- Cpaaa);
    \draw[timed, markgreen] (Cap |- Capp) -- (Cap |- Capa);
    \draw[timed, markyellow] (Eara |- Earap) -- (Eara |- Earaa);
    \draw[timed, markblue] (MSapaa |- MSapaap) -- (MSapaa |- MSapaaa);
    \draw[timed, markblue] (MSapa |- MSapap) -- (MSapa |- MSapaa);
    \draw[timed, markteal] (MSaa |- MSaap) -- (MSaa |- MSaaa);
    \draw[timed, markblue] (ABprpapp |- ABprpappp) -- (ABprpapp |- ABprpappa);
    \draw[timed, markblue] (ABpraapa |- ABpraapap) -- (ABpraapa |- ABpraapaa);
    \draw[timed, markgreen] (ABplpapp |- ABplpappp) -- (ABplpapp |- ABplpappa);
    \draw[timed, markblue] (ABplpapa |- ABplpapap) -- (ABplpapa |- ABplpapaa);
    \draw[timed, marklime] (ABplpap |- ABplpapp) -- (ABplpap |- ABplpapa);
    \draw[timed, markblue] (ABplappa |- ABplappap) -- (ABplappa |- ABplappaa);
    \draw[timed, markblue] (ABplaapp |- ABplaappp) -- (ABplaapp |- ABplaappa);
    \draw[timed, markblue] (ABarppaa |- ABarppaap) -- (ABarppaa |- ABarppaaa);
    \draw[timed, markgreen] (ABarpap |- ABarpapp) -- (ABarpap |- ABarpapa);
    \draw[timed, markblue] (ABarpaap |- ABarpaapp) -- (ABarpaap |- ABarpaapa);
    \draw[timed, markteal] (ABarapa |- ABarapap) -- (ABarapa |- ABarapaa);
    \draw[timed, markgreen] (ABalpapp |- ABalpappp) -- (ABalpapp |- ABalpappa);
    \draw[timed, markteal] (ABalpapa |- ABalpapap) -- (ABalpapa |- ABalpapaa);
    \draw[timed, markblue] (ABalappp |- ABalapppp) -- (ABalappp |- ABalapppa);
    \draw[timed, markblue] (ABalappa |- ABalappap) -- (ABalappa |- ABalappaa);
  \end{scope}
\end{tikzpicture}
\end{document}
